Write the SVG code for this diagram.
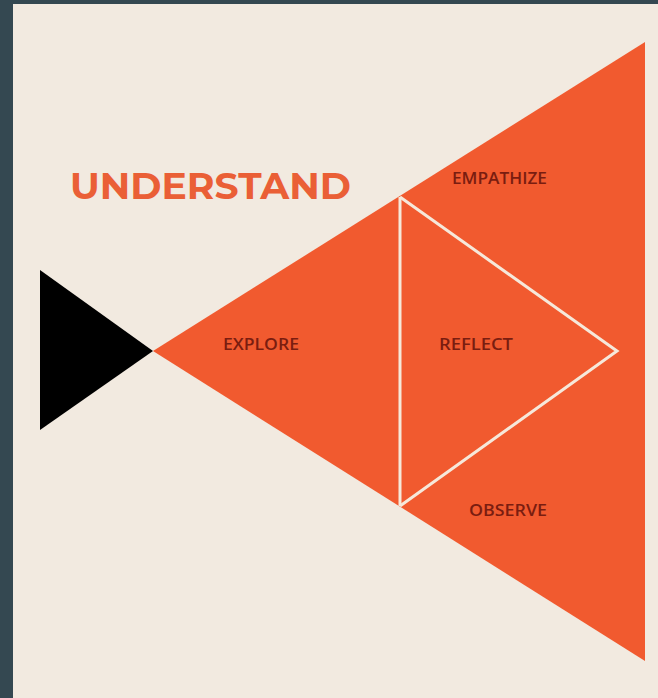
<svg xmlns="http://www.w3.org/2000/svg" width="658" height="698" viewBox="0 0 658 698">
  <style>
    .label { font-family: "Open Sans", "Liberation Sans", sans-serif; font-size: 16.5px; font-weight: 600; fill: #7a1d10; }
    .title { font-family: "Montserrat", "Liberation Sans", sans-serif; font-weight: bold; font-size: 37px; fill: #ea5f36; }
    .divider { stroke: #f6e8da; stroke-width: 3; fill: none; stroke-linejoin: miter; }
  </style>
  <rect x="0" y="0" width="658" height="698" fill="#344851"/>
  <rect x="13" y="4" width="645" height="694" fill="#f2eae0"/>

  <g id="black-triangle">
    <polygon points="40,270 153,351 40,430" fill="#000000"/>
  </g>
  <g id="big-triangle">
    <polygon points="153,351 645,42 645,661" fill="#f15a2f"/>
  </g>
  <g id="dividers">
    <line class="divider" x1="400" y1="197" x2="400" y2="506"/>
    <polyline class="divider" points="400,197 617,351 400,506"/>
  </g>

  <g id="understand">
    <text class="title" x="70" y="199" textLength="281" lengthAdjust="spacingAndGlyphs">UNDERSTAND</text>
  </g>
  <g id="empathize">
    <text class="label" x="452" y="184" textLength="95" lengthAdjust="spacingAndGlyphs">EMPATHIZE</text>
  </g>
  <g id="explore">
    <text class="label" x="223" y="350" textLength="76" lengthAdjust="spacingAndGlyphs">EXPLORE</text>
  </g>
  <g id="reflect">
    <text class="label" x="439" y="350" textLength="74" lengthAdjust="spacingAndGlyphs">REFLECT</text>
  </g>
  <g id="observe">
    <text class="label" x="469" y="516" textLength="78" lengthAdjust="spacingAndGlyphs">OBSERVE</text>
  </g>
</svg>
